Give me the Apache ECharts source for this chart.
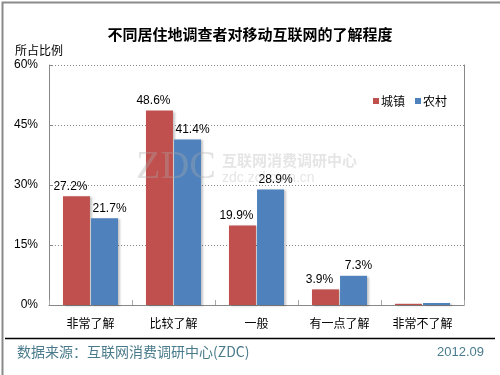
<!DOCTYPE html>
<html>
<head>
<meta charset="utf-8">
<script src="https://cdn.jsdelivr.net/npm/echarts@6/dist/echarts.min.js"></script>
<style>
html,body{margin:0;padding:0;background:#fff;}
#c{width:500px;height:375px;}
</style>
</head>
<body>
<div id="c"></div>
<script>
var categories = ['非常了解', '比较了解', '一般', '有一点了解', '非常不了解'];
var urbanValues = [27.2, 48.6, 19.9, 3.9, 0.3];
var ruralValues = [21.7, 41.4, 28.9, 7.3, 0.5];
var showLabel = [true, true, true, true, false];
var yTicks = [0, 15, 30, 45, 60];
var seriesNames = ['城镇', '农村'];

var FONT = '"Liberation Sans", Arial, "Noto Sans CJK SC", sans-serif';
var CJK = '"Noto Sans CJK SC", "Liberation Sans", sans-serif';

function mk(vals) {
  return vals.map(function (v, i) {
    return { value: v, label: { show: showLabel[i] } };
  });
}

var chart = echarts.init(document.getElementById('c'), null, { renderer: 'canvas' });
var barShadow = { shadowColor: 'rgba(0,0,0,0.22)', shadowBlur: 2, shadowOffsetX: 2, shadowOffsetY: 1 };

chart.setOption({
  animation: false,
  backgroundColor: '#fff',
  title: {
    text: '不同居住地调查者对移动互联网的了解程度',
    left: 'center', top: 22,
    textStyle: { fontFamily: CJK, fontSize: 15, fontWeight: 'bold', color: '#000' }
  },
  legend: {
    data: seriesNames,
    right: 48, top: 90,
    itemWidth: 6, itemHeight: 6, itemGap: 10,
    icon: 'rect',
    textStyle: { fontFamily: CJK, fontSize: 12, color: '#000', padding: [0, 0, 0, -3] }
  },
  grid: { left: 49, right: 36, top: 65, bottom: 70, containLabel: false },
  xAxis: {
    type: 'category',
    data: categories,
    axisLine: { show: true, lineStyle: { color: '#888', width: 1 } },
    axisTick: { show: true, inside: true, length: 5, lineStyle: { color: '#aaa' } },
    axisLabel: { fontFamily: CJK, fontSize: 12, color: '#000', margin: 12 },
    splitLine: { show: false }
  },
  yAxis: [{
    type: 'value',
    min: yTicks[0], max: yTicks[yTicks.length - 1], interval: 15,
    axisLine: { show: true, lineStyle: { color: '#888', width: 1 } },
    axisTick: { show: true, inside: true, length: 3, lineStyle: { color: '#888' } },
    axisLabel: { formatter: '{value}%', fontFamily: FONT, fontSize: 12, color: '#000', margin: 11 },
    splitLine: { show: true, lineStyle: { color: '#888', type: [1, 2], width: 1 } }
  }, {
    type: 'value',
    position: 'right',
    min: yTicks[0], max: yTicks[yTicks.length - 1], interval: 15,
    axisLine: { show: true, lineStyle: { color: '#888', width: 1 } },
    axisTick: { show: false },
    axisLabel: { show: false },
    splitLine: { show: false }
  }],
  series: [{
    name: seriesNames[0],
    type: 'bar',
    data: mk(urbanValues),
    barWidth: 27,
    barGap: '4%',
    itemStyle: Object.assign({ color: '#C0504D' }, barShadow),
    label: { position: 'top', distance: 4, offset: [-6, 0], formatter: '{c}%', fontFamily: FONT, fontSize: 12, color: '#000' },
    z: 3
  }, {
    name: seriesNames[1],
    type: 'bar',
    data: mk(ruralValues),
    barWidth: 27,
    itemStyle: Object.assign({ color: '#4F81BD' }, barShadow),
    label: { position: 'top', distance: 4, offset: [5, 0], formatter: '{c}%', fontFamily: FONT, fontSize: 12, color: '#000' },
    z: 3
  }],
  graphic: [
    { type: 'rect', left: 0, top: 0, shape: { width: 499, height: 374 }, style: { fill: 'none', stroke: '#8a8a8a', lineWidth: 2 }, silent: true, z: 100 },
    { type: 'text', left: 15, top: 44, style: { text: '所占比例', font: '12px "Noto Sans CJK SC"', fill: '#000' } },
    { type: 'line', shape: { x1: 5, y1: 338.5, x2: 495, y2: 338.5 }, style: { stroke: '#000', lineWidth: 1.5 } },
    { type: 'text', left: 17, top: 345, style: { text: '数据来源：互联网消费调研中心(ZDC)', font: '14px "Noto Sans CJK SC"', fill: '#4A7B8C' } },
    { type: 'text', right: 16, top: 346, style: { text: '2012.09', font: '13px "Liberation Sans", Arial, sans-serif', fill: '#4A7B8C' } },
    { type: 'text', left: 136, top: 147, z: 50, silent: true, style: { text: 'ZDC', font: '40px "Liberation Serif", serif', fill: 'rgba(170,170,170,0.35)' } },
    { type: 'text', left: 222, top: 153, z: 50, silent: true, style: { text: '互联网消费调研中心', font: 'bold 15px "Noto Sans CJK SC"', fill: 'rgba(170,170,170,0.3)' } },
    { type: 'text', left: 222, top: 171, z: 50, silent: true, style: { text: 'zdc.zol.com.cn', font: '14px "Liberation Sans", sans-serif', fill: 'rgba(170,170,170,0.3)' } }
  ]
});
</script>
</body>
</html>
